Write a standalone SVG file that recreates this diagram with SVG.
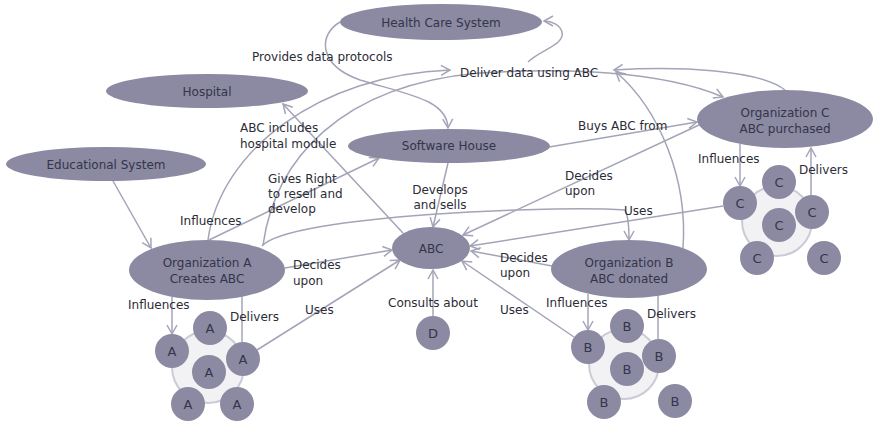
<svg xmlns="http://www.w3.org/2000/svg" width="874" height="425" viewBox="0 0 874 425">
  <style>
    .node { fill: #8b8aa2; }
    .ring { fill: #f2f2f4; stroke: #cbcbd5; stroke-width: 2; }
    .edge { fill: none; stroke: #a4a4b8; stroke-width: 1.5; }
    .arrow { marker-end: url(#chev); }
    text { font-family: "DejaVu Sans", "Liberation Sans", sans-serif; font-size: 12px; }
    .nt { fill: #34344a; text-anchor: middle; }
    .ct { fill: #34344a; text-anchor: middle; font-size: 13px; }
    .lbl { fill: #2c2c36; }
  </style>
  <defs>
    <marker id="chev" markerUnits="userSpaceOnUse" markerWidth="12" markerHeight="12" refX="9" refY="5" orient="auto" overflow="visible">
      <path d="M0,0 L9,5 L0,10" fill="none" stroke="#a4a4b8" stroke-width="1.5"/>
    </marker>
  </defs>

  <rect width="874" height="425" fill="#ffffff"/>

  <!-- connectors -->
  <g id="connectors">
    <path class="edge arrow" d="M113,181 L151,248"/>
    <path class="edge arrow" d="M209,240 L379,158"/>
    <path class="edge arrow" d="M208,240 C220,150 320,75 450,70"/>
    <path class="edge arrow" d="M263,245 C275,160 340,85 480,73 C560,68 660,70 723,97"/>
    <path class="edge arrow" d="M340,22 C318,35 318,65 360,80 C410,95 447,100 448,128"/>
    <path class="edge arrow" d="M528,62 C540,50 565,45 562,32 C560,25 552,21 544,21"/>
    <path class="edge arrow" d="M785,90 C760,70 680,66 614,70"/>
    <path class="edge arrow" d="M683,248 C688,180 660,110 616,72"/>
    <path class="edge arrow" d="M403,233 L283,104"/>
    <path class="edge arrow" d="M448,163 L433,227"/>
    <path class="edge arrow" d="M549,147 L697,122"/>
    <path class="edge arrow" d="M699,125 L463,235"/>
    <path class="edge arrow" d="M723,206 L470,246"/>
    <path class="edge arrow" d="M262,246 C290,215 560,205 625,210 C628,215 629,228 629,240"/>
    <path class="edge arrow" d="M552,266 L471,251"/>
    <path class="edge arrow" d="M574,337 L462,261"/>
    <path class="edge arrow" d="M433,316 L433,270"/>
    <path class="edge arrow" d="M257,350 L400,260"/>
    <path class="edge arrow" d="M285,268 L392,250"/>
    <path class="edge arrow" d="M172,297 L172,334"/>
    <path class="edge" d="M242,342 L242,296"/>
    <path class="edge arrow" d="M588,294 L588,330"/>
    <path class="edge" d="M658,339 L658,295"/>
    <path class="edge arrow" d="M740,144 L740,186"/>
    <path class="edge arrow" d="M811,195 L811,148"/>

    <text class="lbl" x="252" y="61">Provides data protocols</text>
    <text class="lbl" x="460" y="77">Deliver data using ABC</text>
    <text class="lbl" x="240" y="132">ABC includes</text>
    <text class="lbl" x="240" y="148">hospital module</text>
    <text class="lbl" x="268" y="183">Gives Right</text>
    <text class="lbl" x="268" y="198">to resell and</text>
    <text class="lbl" x="268" y="213">develop</text>
    <text class="lbl" x="578" y="130">Buys ABC from</text>
    <text class="lbl" x="440" y="194" text-anchor="middle">Develops</text>
    <text class="lbl" x="440" y="209" text-anchor="middle">and sells</text>
    <text class="lbl" x="565" y="180">Decides</text>
    <text class="lbl" x="565" y="195">upon</text>
    <text class="lbl" x="624" y="215">Uses</text>
    <text class="lbl" x="180" y="225">Influences</text>
    <text class="lbl" x="293" y="269">Decides</text>
    <text class="lbl" x="293" y="285">upon</text>
    <text class="lbl" x="128" y="309">Influences</text>
    <text class="lbl" x="230" y="321">Delivers</text>
    <text class="lbl" x="305" y="314">Uses</text>
    <text class="lbl" x="388" y="307">Consults about</text>
    <text class="lbl" x="500" y="262">Decides</text>
    <text class="lbl" x="500" y="277">upon</text>
    <text class="lbl" x="500" y="314">Uses</text>
    <text class="lbl" x="546" y="307">Influences</text>
    <text class="lbl" x="647" y="318">Delivers</text>
    <text class="lbl" x="698" y="163">Influences</text>
    <text class="lbl" x="799" y="174">Delivers</text>
  </g>

  <!-- ellipse nodes -->
  <g id="health-care-system">
    <ellipse class="node" cx="441" cy="22" rx="101" ry="18"/>
    <text class="nt" x="441" y="27">Health Care System</text>
  </g>
  <g id="hospital">
    <ellipse class="node" cx="207" cy="91" rx="101" ry="17"/>
    <text class="nt" x="207" y="96">Hospital</text>
  </g>
  <g id="educational-system">
    <ellipse class="node" cx="106" cy="164" rx="100" ry="17"/>
    <text class="nt" x="106" y="169">Educational System</text>
  </g>
  <g id="software-house">
    <ellipse class="node" cx="449" cy="146" rx="101" ry="17"/>
    <text class="nt" x="449" y="150">Software House</text>
  </g>
  <g id="organization-c">
    <ellipse class="node" cx="785" cy="119" rx="88" ry="29"/>
    <text class="nt" x="785" y="117">Organization C</text>
    <text class="nt" x="785" y="133">ABC purchased</text>
  </g>
  <g id="organization-a">
    <ellipse class="node" cx="207" cy="270" rx="78" ry="30"/>
    <text class="nt" x="207" y="267">Organization A</text>
    <text class="nt" x="207" y="283">Creates ABC</text>
  </g>
  <g id="abc">
    <ellipse class="node" cx="431" cy="248" rx="39" ry="21"/>
    <text class="nt" x="431" y="253" font-size="13">ABC</text>
  </g>
  <g id="organization-b">
    <ellipse class="node" cx="629" cy="269" rx="78" ry="29"/>
    <text class="nt" x="629" y="267">Organization B</text>
    <text class="nt" x="629" y="283">ABC donated</text>
  </g>
  <g id="d">
    <circle class="node" cx="433" cy="333" r="17"/>
    <text class="ct" x="433" y="338">D</text>
  </g>

  <!-- member clusters -->
  <g id="cluster-a">
    <circle class="ring" cx="208" cy="367" r="36"/>
    <circle class="node" cx="172" cy="351" r="17"/><text class="ct" x="172" y="356">A</text>
    <circle class="node" cx="210" cy="328" r="17"/><text class="ct" x="210" y="333">A</text>
    <circle class="node" cx="243" cy="359" r="17"/><text class="ct" x="243" y="364">A</text>
    <circle class="node" cx="209" cy="372" r="17"/><text class="ct" x="209" y="377">A</text>
    <circle class="node" cx="188" cy="404" r="17"/><text class="ct" x="188" y="409">A</text>
    <circle class="node" cx="237" cy="404" r="17"/><text class="ct" x="237" y="409">A</text>
  </g>
  <g id="cluster-b">
    <circle class="ring" cx="624" cy="364" r="35"/>
    <circle class="node" cx="588" cy="347" r="17"/><text class="ct" x="588" y="352">B</text>
    <circle class="node" cx="627" cy="326" r="17"/><text class="ct" x="627" y="331">B</text>
    <circle class="node" cx="659" cy="356" r="17"/><text class="ct" x="659" y="361">B</text>
    <circle class="node" cx="627" cy="369" r="17"/><text class="ct" x="627" y="374">B</text>
    <circle class="node" cx="604" cy="402" r="17"/><text class="ct" x="604" y="407">B</text>
    <circle class="node" cx="675" cy="401" r="17"/><text class="ct" x="675" y="406">B</text>
  </g>
  <g id="cluster-c">
    <circle class="ring" cx="777" cy="221" r="35"/>
    <circle class="node" cx="740" cy="203" r="17"/><text class="ct" x="740" y="208">C</text>
    <circle class="node" cx="779" cy="182" r="17"/><text class="ct" x="779" y="187">C</text>
    <circle class="node" cx="812" cy="212" r="17"/><text class="ct" x="812" y="217">C</text>
    <circle class="node" cx="779" cy="225" r="17"/><text class="ct" x="779" y="230">C</text>
    <circle class="node" cx="757" cy="258" r="17"/><text class="ct" x="757" y="263">C</text>
    <circle class="node" cx="824" cy="258" r="17"/><text class="ct" x="824" y="263">C</text>
  </g>
</svg>
